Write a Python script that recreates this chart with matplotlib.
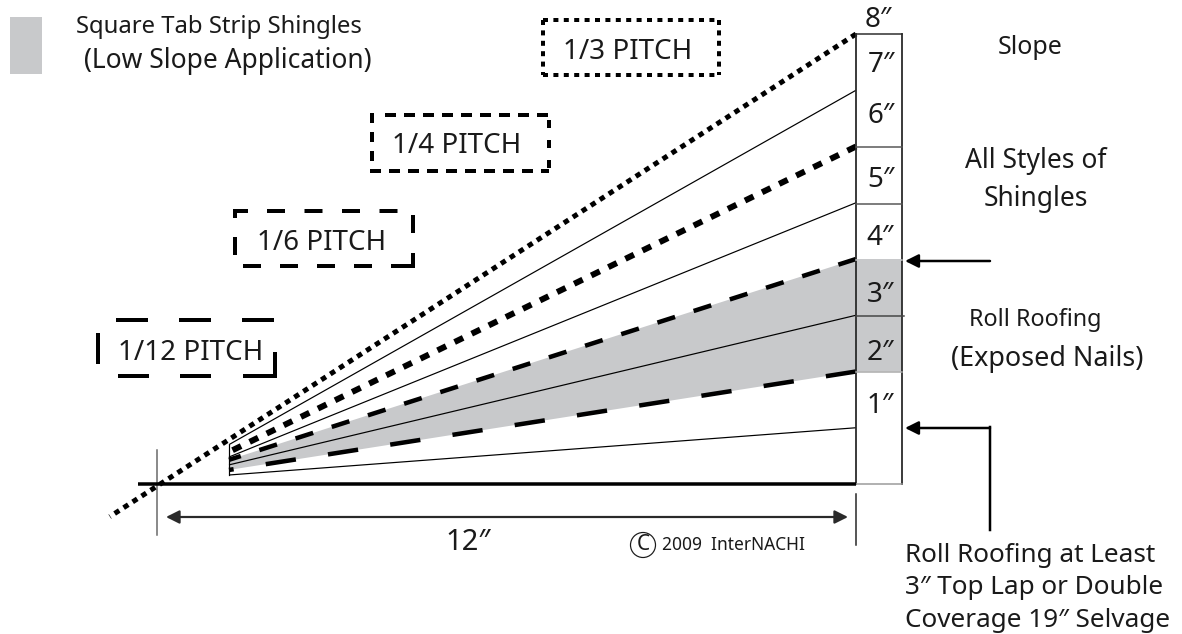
import matplotlib
matplotlib.use("Agg")
import matplotlib.pyplot as plt
from matplotlib.patches import Ellipse

plt.rcParams["font.family"] = ["Noto Sans", "DejaVu Sans"]
plt.rcParams["lines.scale_dashes"] = False

# Rise (inches per 12" run) at the column and where each line starts
rises = [1, 2, 3, 4, 5, 6, 7]
start_rises = [0.16, 0.25, 0.34, 0.43, 0.48, 0.57, 0.70]
start_run = 1.236
dotted_run = [12, -0.81]
dotted_rise = [8, -0.58]
band_rises = [2, 4]
column_labels = ['1″', '2″', '3″', '4″', '5″', '6″', '7″', '8″']
column_label_y = [406, 353, 295, 238, 180, 116, 65, 20]
column_label_x = [880, 880, 880, 880, 881, 881, 881, 878]
pitch_labels = ["1/3 PITCH", "1/4 PITCH", "1/6 PITCH", "1/12 PITCH"]
pitch_label_x = [628, 457, 322, 191]
pitch_label_y = [52, 146, 243, 353]

X0, Y0 = 157, 484
XS, YS = 58.25, 56.25
PX = 72 / 100


def px(x, y):
    return (x - X0) / XS, (Y0 - y) / YS


def pline(xs, ys, **kw):
    pts = [px(x, y) for x, y in zip(xs, ys)]
    ax.plot([p[0] for p in pts], [p[1] for p in pts], **kw)


def dashed(xs, ys, on, off):
    pline(xs, ys, color="black", lw=4 * PX, ls=(0, (on * PX, off * PX)), dash_capstyle="butt")


def solid(xs, ys):
    pline(xs, ys, color="black", lw=4 * PX, solid_capstyle="butt", solid_joinstyle="miter")


fig = plt.figure(figsize=(11.82, 6.34), dpi=100)
ax = fig.add_axes([0, 0, 1, 1])
ax.set_xlim(-X0 / XS, (1182 - X0) / XS)
ax.set_ylim((Y0 - 634) / YS, Y0 / YS)
ax.axis("off")

gray = "#c8c9cb"
dark = "#2a2a2a"
ink = "#1a1a1a"

# gray band
col_right = (902 - X0) / XS
low_start, high_start = start_rises[1], start_rises[3]
ax.fill([start_run, 12, col_right, col_right, 12, start_run],
        [low_start, band_rises[0], band_rises[0], band_rises[1], band_rises[1], high_start],
        color=gray, lw=0, zorder=1)
ax.fill(*zip(px(10, 17), px(42, 17), px(42, 74), px(10, 74)), color=gray, lw=0)

# slope lines, drawn from the column so a dash lands on the end
styles = {
    2: dict(lw=4.5 * PX, ls=(0, (30.5 * PX, 32.5 * PX))),
    4: dict(lw=4.5 * PX, ls=(0, (18.5 * PX, 19.5 * PX))),
    6: dict(lw=6 * PX, ls=(0, (9.5 * PX, 9.5 * PX))),
}
for r, s in zip(rises, start_rises):
    st = styles.get(r, dict(lw=1.2 * PX, ls="-"))
    ax.plot([12, start_run], [r, s], color="black", zorder=3, solid_capstyle="butt",
            dash_capstyle="butt", **st)
ax.plot(dotted_run, dotted_rise, color="black", lw=5 * PX, zorder=3,
        ls=(0, (5.5 * PX, 5.2 * PX)), dash_capstyle="butt")
pline([229, 229], [445, 475], color="black", lw=1.2 * PX, zorder=3)

# column
pline([856, 856], [34, 484], color=dark, lw=1.8 * PX, zorder=4)
pline([902, 902], [34, 484], color=dark, lw=1.8 * PX, zorder=4)
pline([856, 902], [34, 34], color=dark, lw=1.5 * PX, zorder=4)
for yy, c in [(147, "#555555"), (204, "#555555"), (260, gray), (316, "#444444"), (372, "#aaaaaa"), (484, "#999999")]:
    pline([856, 904 if yy == 316 else 902], [yy, yy], color=c, lw=1.5 * PX, zorder=4)

# baseline and dimension
pline([138, 856], [484, 484], color="black", lw=3.5 * PX, zorder=5, solid_capstyle="butt")
pline([157, 157], [450, 535], color="#666666", lw=1.5 * PX, zorder=2)
pline([856, 856], [494, 545], color="#222222", lw=1.5 * PX, zorder=2)
ax.annotate("", xy=px(166, 517), xytext=px(848, 517),
            arrowprops=dict(arrowstyle="<|-|>", color=dark, lw=2.2 * PX, mutation_scale=20, shrinkA=0, shrinkB=0))

# right arrows
ax.annotate("", xy=px(905, 261), xytext=px(990, 261),
            arrowprops=dict(arrowstyle="-|>", color="black", lw=2.5 * PX, mutation_scale=20, shrinkA=0, shrinkB=0))
ax.annotate("", xy=px(905, 428), xytext=px(990, 428),
            arrowprops=dict(arrowstyle="-|>", color="black", lw=2.5 * PX, mutation_scale=20, shrinkA=0, shrinkB=0))
pline([990, 990], [427, 530], color="black", lw=2.5 * PX)

# 1/3 pitch box
dashed([543, 719], [20, 20], 5, 5.4)
dashed([543, 719], [75, 75], 5, 5.4)
dashed([543, 543], [20, 75], 5, 5.4)
dashed([719, 719], [20, 75], 5, 5.4)
# 1/4 pitch box
dashed([385, 549], [115, 115], 11, 8)
dashed([370, 549], [171, 171], 11, 8)
dashed([372, 372], [113, 165], 10, 9)
dashed([549, 549], [120, 171], 8, 12)
# 1/6 pitch box
solid([248, 235, 235], [211, 211, 218])
dashed([267, 413], [211, 211], 18, 19.5)
dashed([243, 395], [266, 266], 18, 19)
solid([393, 413, 413], [266, 266, 253])
solid([235, 235], [237, 255])
solid([413, 413], [215, 233])
# 1/12 pitch box
dashed([116, 275], [320, 320], 32, 31)
dashed([118, 240], [376, 376], 31, 31)
solid([243, 275, 275], [376, 376, 352])
solid([98, 98], [333, 364])

for label, xx, yy in zip(pitch_labels, pitch_label_x, pitch_label_y):
    ax.text(*px(xx, yy), label, ha="center", va="center", fontsize=20, color=ink)

# column labels
for lab, xx, yy in zip(column_labels, column_label_x, column_label_y):
    ax.text(*px(xx, yy), lab, ha="center", va="center", fontsize=20, color=ink, zorder=6)

ax.text(*px(218.5, 27), "Square Tab Strip Shingles", ha="center", va="center", fontsize=17.2, color=ink)
ax.text(*px(228, 61), "(Low Slope Application)", ha="center", va="center", fontsize=19, color=ink)
ax.text(*px(1030, 47), "Slope", ha="center", va="center", fontsize=18, color=ink)
ax.text(*px(1036, 180), "All Styles of\nShingles", ha="center", va="center", fontsize=19, color=ink, linespacing=1.5)
ax.text(*px(1035, 320), "Roll Roofing", ha="center", va="center", fontsize=16.8, color=ink)
ax.text(*px(1047, 359), "(Exposed Nails)", ha="center", va="center", fontsize=19.4, color=ink)
ax.text(*px(468, 542), '12″', ha="center", va="center", fontsize=21, color=ink)
ax.text(*px(905, 588), 'Roll Roofing at Least\n3″ Top Lap or Double\nCoverage 19″ Selvage',
        ha="left", va="center", fontsize=18.8, color=ink, linespacing=1.38)

# copyright mark
ax.add_patch(Ellipse(px(643, 545), 25 / XS, 25 / YS, fc="white", ec=ink, lw=1.2 * PX))
ax.text(*px(643, 545), "C", ha="center", va="center", fontsize=15, color=ink)
ax.text(*px(662, 545), "2009  InterNACHI", ha="left", va="center", fontsize=12.5, color=ink)

fig.savefig("out.png", dpi=100)
